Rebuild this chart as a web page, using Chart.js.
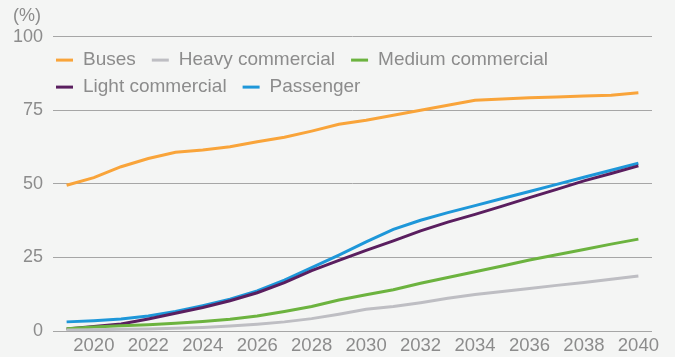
<!DOCTYPE html>
<html>
<head>
<meta charset="utf-8">
<script src="https://cdn.jsdelivr.net/npm/chart.js@4/dist/chart.umd.min.js"></script>
<style>
  html, body { margin: 0; padding: 0; background: #f4f5f4; }
  #wrap { width: 675px; height: 357px; position: relative; }
</style>
</head>
<body>
<div id="wrap"><canvas id="chart"></canvas></div>
<script>
const years = ["2019", "2020", "2021", "2022", "2023", "2024", "2025", "2026", "2027", "2028", "2029",
    "2030", "2031", "2032", "2033", "2034", "2035", "2036", "2037", "2038", "2039", "2040"];
const buses = [49.5, 52.1, 55.8, 58.6, 60.7, 61.5, 62.6, 64.3, 65.8, 67.9, 70.2,
    71.6, 73.3, 75.0, 76.7, 78.4, 78.8, 79.2, 79.5, 79.8, 80.1, 80.9];
const heavyCommercial = [0.3, 0.4, 0.6, 0.7, 0.9, 1.2, 1.7, 2.3, 3.1, 4.2, 5.7,
    7.4, 8.3, 9.6, 11.1, 12.4, 13.4, 14.4, 15.5, 16.5, 17.6, 18.7];
const mediumCommercial = [0.8, 1.4, 1.8, 2.1, 2.6, 3.2, 4.0, 5.1, 6.6, 8.3, 10.5,
    12.3, 14.0, 16.2, 18.2, 20.1, 22.1, 24.1, 25.9, 27.7, 29.5, 31.2];
const lightCommercial = [0.7, 1.5, 2.4, 4.1, 6.0, 8.0, 10.3, 13.0, 16.4, 20.5, 24.0,
    27.4, 30.6, 34.0, 37.0, 39.6, 42.4, 45.3, 48.1, 51.0, 53.5, 56.1];
const passenger = [3.1, 3.5, 4.1, 5.1, 6.6, 8.6, 10.8, 13.6, 17.3, 21.5, 25.8,
    30.3, 34.5, 37.6, 40.2, 42.6, 45.0, 47.4, 49.8, 52.2, 54.6, 57.0];
const yTicks = [0, 25, 50, 75, 100];

const textGrey = "#8c8c8c";
const fontFamily = '"Liberation Sans", Arial, sans-serif';

// legend drawn inside the plot area, wrapping at the right edge
const insideLegend = {
    id: "insideLegend",
    afterDraw(chart) {
        const { ctx, chartArea } = chart;
        ctx.save();
        ctx.font = `19px ${fontFamily}`;
        ctx.textBaseline = "middle";
        let x = chartArea.left + 3;
        let y = chartArea.top + 23.5;
        chart.data.datasets.forEach(ds => {
            const w = 27 + ctx.measureText(ds.label).width;
            if (x + w > chartArea.right) {
                x = chartArea.left + 3;
                y += 27;
            }
            ctx.strokeStyle = ds.borderColor;
            ctx.lineWidth = 3;
            ctx.beginPath();
            ctx.moveTo(x, y);
            ctx.lineTo(x + 17, y);
            ctx.stroke();
            ctx.fillStyle = textGrey;
            ctx.fillText(ds.label, x + 27, y);
            x += w + 16;
        });
        ctx.restore();
    }
};

const line = (label, data, color) => ({
    label, data,
    borderColor: color,
    backgroundColor: color,
    borderWidth: 3,
    pointRadius: 0,
    tension: 0,
    fill: false
});

new Chart(document.querySelector("#chart"), {
    type: "line",
    data: {
        labels: years,
        datasets: [
            line("Buses", buses, "#f9a43a"),
            line("Heavy commercial", heavyCommercial, "#bebec3"),
            line("Medium commercial", mediumCommercial, "#6cb33f"),
            line("Light commercial", lightCommercial, "#5a1e5f"),
            line("Passenger", passenger, "#1e97d9")
        ]
    },
    options: {
        responsive: true,
        maintainAspectRatio: false,
        animation: false,
        layout: { padding: { left: 13, right: 23, top: 0, bottom: 0 } },
        plugins: {
            legend: { display: false },
            tooltip: { enabled: false },
            title: {
                display: true,
                text: "(%)",
                align: "start",
                color: textGrey,
                font: { family: fontFamily, size: 18, weight: "normal" },
                padding: { top: 5, bottom: 10 }
            }
        },
        scales: {
            x: {
                offset: true,
                grid: { display: false, drawTicks: false },
                border: { display: false },
                afterFit: axis => { axis.height = 26; },
                ticks: {
                    autoSkip: false,
                    maxRotation: 0,
                    padding: 4,
                    color: textGrey,
                    font: { family: fontFamily, size: 18.5 },
                    callback: (v, i) => (Number(years[i]) % 2 === 0 ? years[i] : "")
                }
            },
            y: {
                min: yTicks[0],
                max: yTicks[yTicks.length - 1],
                afterBuildTicks: axis => { axis.ticks = yTicks.map(v => ({ value: v })); },
                afterFit: axis => { axis.width = 40; },
                grid: { color: "#a6a6a6", lineWidth: 1, drawTicks: false },
                border: { display: false },
                ticks: {
                    padding: 10,
                    color: textGrey,
                    font: { family: fontFamily, size: 18 }
                }
            }
        }
    },
    plugins: [insideLegend]
});
</script>
</body>
</html>
